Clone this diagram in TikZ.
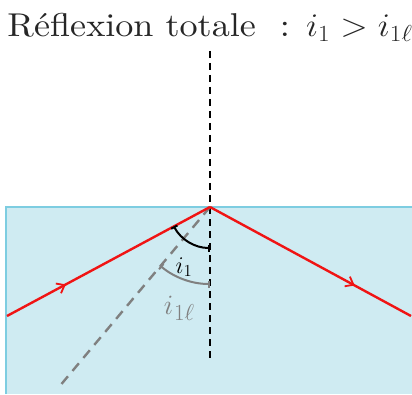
\RequirePackage{fix-cm}
\documentclass[tikz,border=0pt]{standalone}
\usepackage{fontspec}
\usepackage{graphicx}
\setmainfont{lmroman10-regular}[Extension=.otf]
\usetikzlibrary{arrows.meta,decorations.markings,calc}
\definecolor{glass}{RGB}{207,235,242}
\definecolor{glassedge}{RGB}{125,205,225}
\definecolor{rayred}{RGB}{240,20,20}
\definecolor{critgray}{RGB}{128,128,128}
\tikzset{
  ray/.style={draw=rayred, line width=2.4pt,
    postaction={decorate},
    decoration={markings, mark=at position #1 with {\arrow{Straight Barb[length=7pt,width=11pt,line width=1.8pt]}}}},
  normalline/.style={draw=black, line width=2pt, dash pattern=on 7pt off 5pt},
  critline/.style={draw=critgray, line width=2.4pt, dash pattern=on 10pt off 7pt},
  anglearc/.style={line width=2pt, {Bar[width=7pt]}-{Bar[width=7pt]}},
}
\begin{document}
\begin{tikzpicture}[x=1pt,y=1pt]
\useasboundingbox (0,0) rectangle (412,394);
% glass block
\fill[glass] (6,0) rectangle (412,187);
\draw[glassedge, line width=2pt] (6,0) -- (6,187) -- (412,187);
\coordinate (O) at (210,187);
\coordinate (A) at (7,78);
\coordinate (B) at (411,78);
\coordinate (Ntop) at (210,343);
\coordinate (Nbot) at (210,32);
\coordinate (C) at ($(O)+(230:232)$);
% normal
\draw[normalline] (Ntop) -- (Nbot);
% critical direction
\draw[critline] (O) -- (C);
% rays
\draw[ray=0.29] (A) -- (O);
\draw[ray=0.72] (O) -- (B);
% angles
\draw[anglearc, black] (O) ++(208:41) arc[start angle=208, end angle=270, radius=41];
\draw[anglearc, critgray] (O) ++(230:77) arc[start angle=230, end angle=270, radius=77];
\node[font=\fontsize{24}{27}\selectfont, inner sep=0pt] (li1) at (184,127) {$i_1$};
\node[text=critgray, inner sep=0pt] (li1l) at (179,86) {\fontsize{28}{31}\selectfont$i$\kern1pt\raisebox{-6pt}{\fontsize{23}{26}\selectfont$1\ell$}};
% title
\node[anchor=base, inner sep=0pt, text=black!85] (title) at (210,357.5) {\scalebox{1.095}[1]{\fontsize{33}{38}\selectfont Réflexion totale~ : $i_1>i_{1\ell}$}};
\end{tikzpicture}
\end{document}
